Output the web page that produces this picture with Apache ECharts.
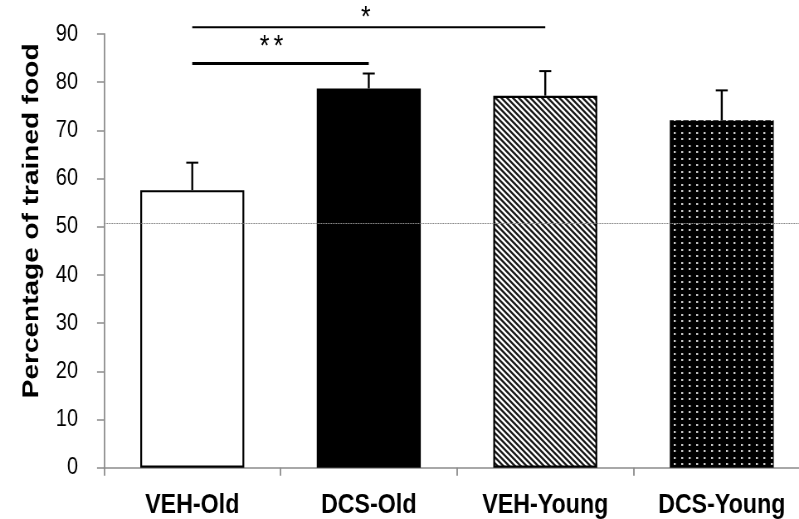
<!DOCTYPE html>
<html>
<head>
<meta charset="utf-8">
<style>
  html, body { margin: 0; padding: 0; background: #fff; overflow: hidden; }
  #wrap { width: 799px; height: 519px; overflow: hidden; }
  /* drawn wide, then condensed horizontally to give the narrow type of the figure */
  #chart { width: 963px; height: 519px; transform: scaleX(0.8297); transform-origin: 0 0; }
</style>
<script src="https://cdn.jsdelivr.net/npm/echarts@6/dist/echarts.min.js"></script>
</head>
<body>
<div id="wrap"><div id="chart"></div></div>
<script>
// Groups and measured values (mean, upper error)
const categories = ['VEH-Old', 'DCS-Old', 'VEH-Young', 'DCS-Young'];
const means = [57.6, 78.7, 77.2, 72.1];
const errors = [5.7, 3.1, 5.1, 6.2];
const yTicks = [0, 10, 20, 30, 40, 50, 60, 70, 80, 90];
const chanceLevel = 50.8;
// Significance brackets: [from group, to group, height, marker]
const bracketFrom = [0, 0];
const bracketTo = [2, 1];
const bracketLevel = [91.4, 83.9];
const bracketMarks = ['*', '**'];

const SQ = 0.8297;              // horizontal condensing factor of the page
const px = function (v) { return v / SQ; };   // screen px -> drawing px (horizontal)
const FONT = "'Liberation Sans', Arial, sans-serif";

// Fill patterns
function hatchPattern() {
  const w = 7, h = 6;
  const c = document.createElement('canvas');
  c.width = w; c.height = h;
  const g = c.getContext('2d');
  g.fillStyle = '#fff';
  g.fillRect(0, 0, w, h);
  g.strokeStyle = '#1a1a1a';
  g.lineWidth = 2.3;
  g.beginPath();
  for (let k = -1; k <= 1; k++) {
    g.moveTo(k * w - w, -h);
    g.lineTo(k * w + 2 * w, 2 * h);
  }
  g.stroke();
  return c;
}
function dotPattern() {
  const w = 18, h = 13;
  const c = document.createElement('canvas');
  c.width = w; c.height = h;
  const g = c.getContext('2d');
  g.fillStyle = '#000';
  g.fillRect(0, 0, w, h);
  g.fillStyle = '#c8c8c8';
  [[2, 2], [11, 2], [2, 8], [11, 8]].forEach(function (p) { g.fillRect(p[0], p[1], 2.4, 2); });
  return c;
}

const barStyles = [
  { color: 'rgba(0,0,0,0)', borderColor: '#000', borderWidth: 2.2 },
  { color: '#000' },
  { color: { image: hatchPattern(), repeat: 'repeat' }, borderColor: '#000', borderWidth: 2.2 },
  { color: { image: dotPattern(), repeat: 'repeat' } }
];

const barData = means.map(function (v, i) { return { value: v, itemStyle: barStyles[i] }; });
const errData = means.map(function (v, i) { return [i, v, errors[i]]; });
const bracketData = bracketFrom.map(function (f, i) { return [f, bracketTo[i], bracketLevel[i], i]; });

// text offsets (screen px) of the markers above their brackets
const markOffsets = [[-3, -10], [-9, -17]];

const chart = echarts.init(document.getElementById('chart'), null, { renderer: 'canvas' });
chart.setOption({
  animation: false,
  backgroundColor: '#fff',
  grid: { left: px(104), right: -px(11), top: 34, bottom: 51.3, containLabel: false, outerBoundsMode: 'none' },
  xAxis: {
    type: 'category',
    data: categories,
    axisLine: { lineStyle: { color: '#8c8c8c', width: 1.5 } },
    axisTick: { show: true, length: 8, lineStyle: { color: '#8c8c8c', width: 1.8 } },
    axisLabel: { interval: 0, margin: 24, color: '#000', fontFamily: FONT, fontWeight: 'bold', fontSize: 28 }
  },
  yAxis: {
    type: 'value',
    min: yTicks[0],
    max: yTicks[yTicks.length - 1],
    interval: 10,
    name: 'Percentage of trained food',
    nameLocation: 'middle',
    nameRotate: 90,
    nameGap: px(64.7) - 5,
    nameTextStyle: { color: '#000', fontFamily: FONT, fontWeight: 'bold', fontSize: 28, padding: [0, 0, 0, 60] },
    splitLine: { show: false },
    axisLine: { show: true, lineStyle: { color: '#8c8c8c', width: 1.8 } },
    axisTick: { show: true, length: px(7), lineStyle: { color: '#8c8c8c', width: 1.5 } },
    axisLabel: { margin: px(26), color: '#000', fontFamily: FONT, fontSize: 24 }
  },
  series: [
    {
      // chance-level reference line, behind the bars
      type: 'line',
      data: [],
      z: 1,
      markLine: {
        silent: true,
        symbol: 'none',
        label: { show: false },
        lineStyle: { color: '#8a8a8a', width: 1, type: [2, 1] },
        data: [{ yAxis: chanceLevel }]
      }
    },
    {
      type: 'bar',
      data: barData,
      barWidth: px(104),
      z: 2
    },
    {
      // upper error bars
      type: 'custom',
      z: 3,
      clip: false,
      data: errData,
      renderItem: function (params, api) {
        const i = api.value(0);
        const base = api.coord([i, api.value(1)]);
        const top = api.coord([i, api.value(1) + api.value(2)]);
        const half = px(6);
        return {
          type: 'group',
          children: [
            { type: 'line', shape: { x1: base[0], y1: base[1], x2: top[0], y2: top[1] }, style: { stroke: '#000', lineWidth: 2.4 } },
            { type: 'line', shape: { x1: top[0] - half, y1: top[1], x2: top[0] + half, y2: top[1] }, style: { stroke: '#000', lineWidth: 2 } }
          ]
        };
      }
    },
    {
      // significance brackets
      type: 'custom',
      z: 3,
      clip: false,
      data: bracketData,
      renderItem: function (params, api) {
        const k = api.value(3);
        const a = api.coord([api.value(0), api.value(2)]);
        const b = api.coord([api.value(1), api.value(2)]);
        const mark = bracketMarks[k];
        const off = markOffsets[k];
        const cx = (a[0] + b[0]) / 2 + px(off[0]);
        const children = [
          { type: 'line', shape: { x1: a[0], y1: a[1], x2: b[0], y2: b[1] }, style: { stroke: '#000', lineWidth: k === 0 ? 2 : 3 } }
        ];
        const step = px(14);
        for (let j = 0; j < mark.length; j++) {
          children.push({
            type: 'text',
            style: {
              text: mark[j],
              x: cx + (j - (mark.length - 1) / 2) * step,
              y: a[1] + off[1],
              align: 'center',
              verticalAlign: 'middle',
              font: '30px ' + FONT,
              fill: '#000'
            }
          });
        }
        return { type: 'group', children: children };
      }
    }
  ]
});
</script>
</body>
</html>
